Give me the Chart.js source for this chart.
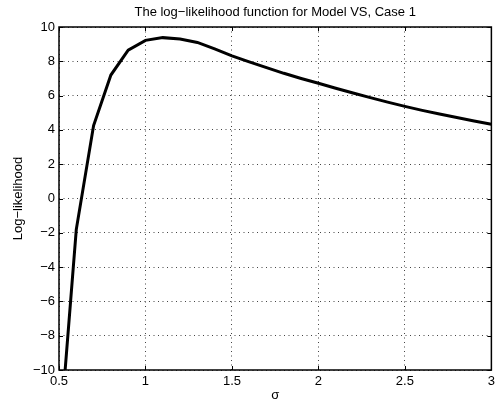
<!DOCTYPE html>
<html>
<head>
<meta charset="utf-8">
<script src="https://cdn.jsdelivr.net/npm/chart.js@4/dist/chart.umd.min.js"></script>
<style>
  body { margin: 0; background: #fff; }
  #wrap { width: 499px; height: 403px; }
</style>
</head>
<body>
<div id="wrap"><canvas id="llChart" width="499" height="403"></canvas></div>
<script>
// sigma values and log-likelihood
const sigma = [0.5, 0.6, 0.7, 0.8, 0.9, 1.0, 1.1, 1.2, 1.3, 1.4, 1.5, 1.6, 1.7, 1.8, 1.9,
  2.0, 2.1, 2.2, 2.3, 2.4, 2.5, 2.6, 2.7, 2.8, 2.9, 3.0];
const logL = [-14.5, -1.8, 4.25, 7.2, 8.65, 9.22, 9.38, 9.3, 9.1, 8.72, 8.32, 7.97, 7.63, 7.3, 7.0,
  6.72, 6.43, 6.15, 5.88, 5.62, 5.37, 5.14, 4.93, 4.72, 4.52, 4.33];
const xTicks = [0.5, 1, 1.5, 2, 2.5, 3];
const yTicks = [-10, -8, -6, -4, -2, 0, 2, 4, 6, 8, 10];
const titleText = "The log\u2212likelihood function for Model VS, Case 1";

const FONT = "'Liberation Sans', Arial, Helvetica, sans-serif";

function minus(v) {
  return v < 0 ? "\u2212" + Math.abs(v) : String(v);
}

// solid box round the axes, inward tick marks and a title centred over the axes (matlab style)
const boxPlugin = {
  id: "box",
  afterDatasetsDraw(chart) {
    const { ctx, chartArea: a, scales } = chart;
    ctx.save();
    ctx.strokeStyle = "#000";
    ctx.lineWidth = 1;
    ctx.beginPath();
    xTicks.forEach((t) => {
      const px = Math.round(scales.x.getPixelForValue(t)) + 0.5;
      ctx.moveTo(px, a.bottom);
      ctx.lineTo(px, a.bottom - 4);
      ctx.moveTo(px, a.top);
      ctx.lineTo(px, a.top + 4);
    });
    yTicks.forEach((t) => {
      const py = Math.round(scales.y.getPixelForValue(t)) + 0.5;
      ctx.moveTo(a.left, py);
      ctx.lineTo(a.left + 4, py);
      ctx.moveTo(a.right, py);
      ctx.lineTo(a.right - 4, py);
    });
    ctx.stroke();
    ctx.lineWidth = 1.5;
    ctx.strokeRect(a.left, a.top, a.right - a.left, a.bottom - a.top);

    ctx.fillStyle = "#000";
    ctx.font = "13px " + FONT;
    ctx.textAlign = "center";
    ctx.textBaseline = "middle";
    ctx.fillText(titleText, (a.left + a.right) / 2, a.top - 15);
    ctx.restore();
  },
};

new Chart(document.getElementById("llChart").getContext("2d"), {
  type: "line",
  data: {
    datasets: [
      {
        label: "log-likelihood",
        data: sigma.map((s, i) => ({ x: s, y: logL[i] })),
        borderColor: "#000",
        borderWidth: 3,
        pointRadius: 0,
        tension: 0,
        fill: false,
        clip: 0,
      },
    ],
  },
  options: {
    responsive: false,
    animation: false,
    layout: { padding: { left: 0, right: 6, top: 27, bottom: 0 } },
    plugins: {
      legend: { display: false },
      tooltip: { enabled: false },
      title: { display: false },
    },
    scales: {
      x: {
        type: "linear",
        min: 0.5,
        max: 3,
        afterBuildTicks: (scale) => {
          scale.ticks = xTicks.map((v) => ({ value: v }));
        },
        afterFit: (scale) => {
          scale.height = 33;
        },
        ticks: {
          color: "#000",
          font: { family: FONT, size: 13 },
          padding: 4,
          maxRotation: 0,
          callback: (v) => minus(v),
        },
        grid: { color: "#444", lineWidth: 1, drawTicks: false },
        border: { display: false, dash: [1, 3.5] },
        title: {
          display: true,
          text: "\u03c3",
          color: "#000",
          font: { family: FONT, size: 13 },
          padding: { top: 0, bottom: 0 },
        },
      },
      y: {
        min: -10,
        max: 10,
        afterBuildTicks: (scale) => {
          scale.ticks = yTicks.map((v) => ({ value: v }));
        },
        afterFit: (scale) => {
          scale.width = 59;
        },
        ticks: {
          color: "#000",
          font: { family: FONT, size: 13 },
          padding: 4,
          callback: (v) => minus(v),
        },
        grid: { color: "#444", lineWidth: 1, drawTicks: false },
        border: { display: false, dash: [1, 3.5] },
        title: {
          display: true,
          text: "Log\u2212likelihood",
          color: "#000",
          font: { family: FONT, size: 13 },
          padding: { top: 11, bottom: 0 },
        },
      },
    },
  },
  plugins: [boxPlugin],
});
</script>
</body>
</html>
